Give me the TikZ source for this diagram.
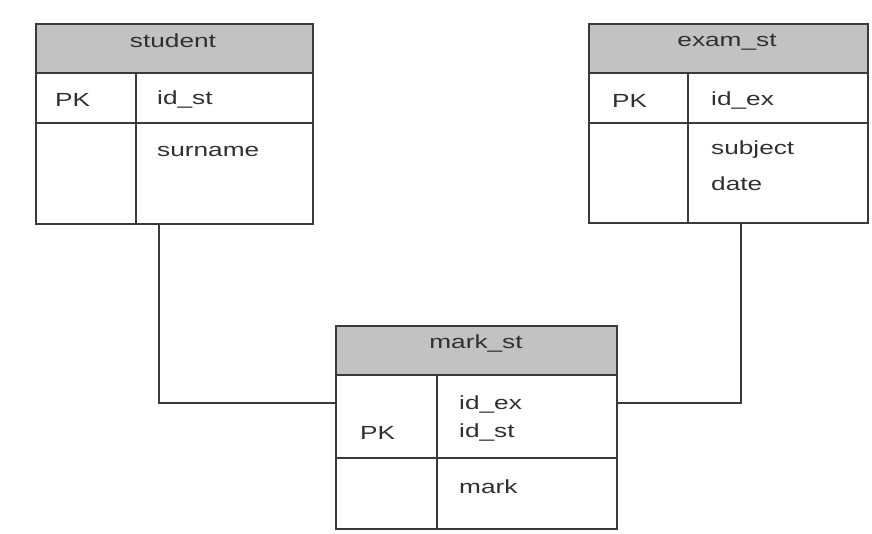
\documentclass[tikz,border=0pt]{standalone}
\usepackage{fontspec}
\setmainfont{Liberation Sans}[FakeStretch=1.38]
\definecolor{lineC}{HTML}{3A3A3A}
\definecolor{headC}{HTML}{C2C2C2}
\definecolor{textC}{HTML}{303030}
\begin{document}
\begin{tikzpicture}[x=1pt,y=-1pt,
  tbl/.style={draw=lineC, line width=2pt, inner sep=0pt, anchor=north west},
  hdr/.style={fill=headC, draw=lineC, line width=2pt, inner sep=0pt, anchor=north west},
  sep/.style={draw=lineC, line width=1.6pt},
  conn/.style={draw=lineC, line width=1.8pt},
  txt/.style={text=textC, font=\fontsize{19}{23}\selectfont, inner sep=0pt, anchor=west},
  ttl/.style={text=textC, font=\fontsize{19}{23}\selectfont, inner sep=0pt, anchor=center}]
\useasboundingbox[fill=white] (0,0) rectangle (872,533);
% ---- student ----
\node[hdr, minimum width=277pt, minimum height=49pt] (sthead) at (35,23) {};
\node[tbl, minimum width=277pt, minimum height=200pt] (student) at (35,23) {};
\draw[sep] (35,123) -- (312,123);
\draw[sep] (136,72) -- (136,223);
\node[ttl] (sttitle) at (173,41) {student};
\node[txt] (stpk) at (55,100) {PK};
\node[txt] (stid) at (157,100) {id\_st};
\node[txt] (stsur) at (157,151) {surname};
% ---- exam_st ----
\node[hdr, minimum width=279pt, minimum height=49pt] (exhead) at (588,23) {};
\node[tbl, minimum width=279pt, minimum height=199pt] (exam) at (588,23) {};
\draw[sep] (588,123) -- (867,123);
\draw[sep] (688,72) -- (688,222);
\node[ttl] (extitle) at (727,42) {exam\_st};
\node[txt] (expk) at (612,101) {PK};
\node[txt] (exid) at (711,101) {id\_ex};
\node[txt] (exsub) at (711,150) {subject};
\node[txt] (exdate) at (711,184) {date};
% ---- mark_st ----
\node[hdr, minimum width=281pt, minimum height=49pt] (mkhead) at (335,325) {};
\node[tbl, minimum width=281pt, minimum height=203pt] (mark) at (335,325) {};
\draw[sep] (335,458) -- (616,458);
\draw[sep] (437,374) -- (437,528);
\node[ttl] (mktitle) at (476,343) {mark\_st};
\node[txt] (mkpk) at (360,433) {PK};
\node[txt] (mkidex) at (459,404) {id\_ex};
\node[txt] (mkidst) at (459,432) {id\_st};
\node[txt] (mkmark) at (459,487) {mark};
% ---- connectors ----
\coordinate (c1) at (159,403);
\coordinate (c2) at (741,403);
\draw[conn] (student.south -| c1) -- (c1) -- (mark.west |- c1);
\draw[conn] (exam.south -| c2) -- (c2) -- (mark.east |- c2);
\end{tikzpicture}
\end{document}
